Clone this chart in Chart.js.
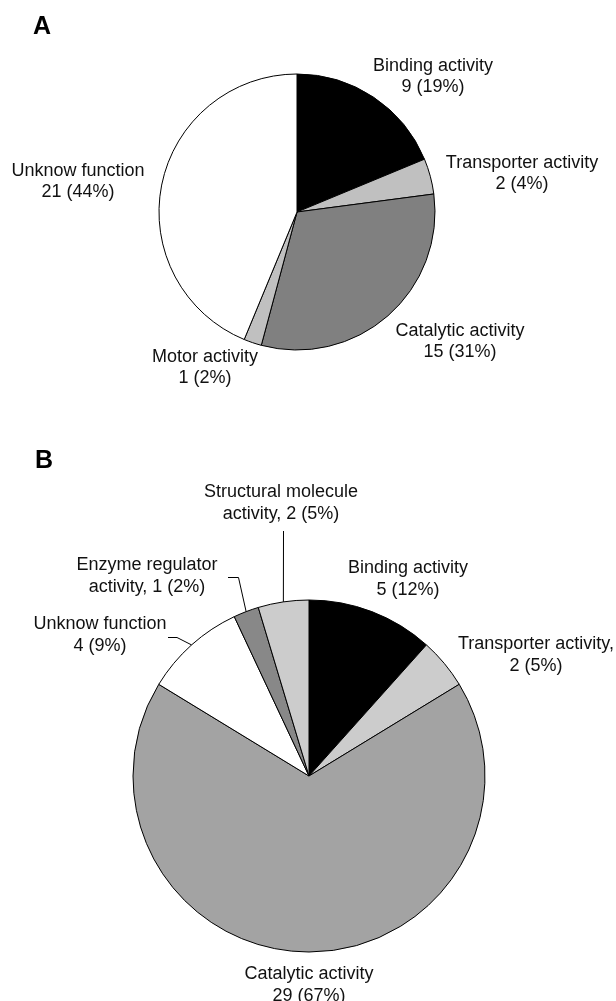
<!DOCTYPE html>
<html>
<head>
<meta charset="utf-8">
<script src="https://cdn.jsdelivr.net/npm/chart.js@4.4.0/dist/chart.umd.min.js"></script>
<style>
    html, body { margin: 0; padding: 0; background: #fff; }
    canvas { display: block; }
</style>
</head>
<body>
<canvas id="chartA" width="616" height="430"></canvas>
<canvas id="chartB" width="616" height="571"></canvas>
<script>
// Panel A
const categoriesA = ['Binding activity', 'Transporter activity', 'Catalytic activity', 'Motor activity', 'Unknow function'];
const countsA = [9, 2, 15, 1, 21];
const coloursA = ['#000000', '#c0c0c0', '#808080', '#c0c0c0', '#ffffff'];
// how each label wraps in the figure, {n} = count, {p} = percent
const labelLinesA = [
    ['Binding activity', '{n} ({p}%)'],
    ['Transporter activity', '{n} ({p}%)'],
    ['Catalytic activity', '{n} ({p}%)'],
    ['Motor activity', '{n} ({p}%)'],
    ['Unknow function', '{n} ({p}%)']
];

// Panel B
const categoriesB = ['Binding activity', 'Transporter activity', 'Catalytic activity', 'Unknow function', 'Enzyme regulator activity', 'Structural molecule activity'];
const countsB = [5, 2, 29, 4, 1, 2];
const coloursB = ['#000000', '#cccccc', '#a3a3a3', '#ffffff', '#888888', '#cccccc'];
const labelLinesB = [
    ['Binding activity', '{n} ({p}%)'],
    ['Transporter activity,', '{n} ({p}%)'],
    ['Catalytic activity', '{n} ({p}%)'],
    ['Unknow function', '{n} ({p}%)'],
    ['Enzyme regulator', 'activity, {n} ({p}%)'],
    ['Structural molecule', 'activity, {n} ({p}%)']
];

const FONT = '"Liberation Sans", Arial, Helvetica, sans-serif';

// draws the slice labels, the leader lines and the panel letter
const sliceLabels = {
    id: 'sliceLabels',
    afterDatasetsDraw(chart, args, opts) {
        const ctx = chart.ctx;
        const meta = chart.getDatasetMeta(0);
        const data = chart.data.datasets[0].data;
        const total = data.reduce((a, b) => a + b, 0);

        ctx.save();
        ctx.fillStyle = '#111';
        ctx.font = '18px ' + FONT;
        ctx.textAlign = 'center';
        ctx.textBaseline = 'alphabetic';
        opts.lines.forEach((lines, i) => {
            const [x, y] = opts.anchors[i];
            const pct = Math.round(data[i] / total * 100);
            lines.forEach((t, k) => {
                ctx.fillText(t.replace('{n}', data[i]).replace('{p}', pct), x, y + k * opts.lineGap);
            });
        });

        ctx.strokeStyle = '#000';
        ctx.lineWidth = 1;
        (opts.leaders || []).forEach(l => {
            const arc = meta.data[l.index];
            const p = arc.getProps(['x', 'y', 'startAngle', 'endAngle', 'outerRadius'], true);
            const mid = (p.startAngle + p.endAngle) / 2;
            ctx.beginPath();
            ctx.moveTo(l.path[0][0], l.path[0][1]);
            l.path.slice(1).forEach(pt => ctx.lineTo(pt[0], pt[1]));
            ctx.lineTo(p.x + Math.cos(mid) * p.outerRadius, p.y + Math.sin(mid) * p.outerRadius);
            ctx.stroke();
        });

        ctx.fillStyle = '#000';
        ctx.font = 'bold 25px ' + FONT;
        ctx.textAlign = 'left';
        ctx.fillText(opts.panel, opts.panelPos[0], opts.panelPos[1]);
        ctx.restore();
    }
};

const makePie = (id, labels, values, colours, radius, padding, labelOpts) => new Chart(document.getElementById(id), {
    type: 'pie',
    data: {
        labels: labels,
        datasets: [{
            data: values,
            backgroundColor: colours,
            borderColor: '#000',
            borderWidth: 1,
            radius: radius
        }]
    },
    options: {
        responsive: false,
        animation: false,
        layout: { padding: padding },
        plugins: {
            legend: { display: false },
            tooltip: { enabled: false },
            sliceLabels: labelOpts
        }
    },
    plugins: [sliceLabels]
});

makePie('chartA', categoriesA, countsA, coloursA, 138,
    { left: 159, right: 181, top: 74, bottom: 80 },
    {
        panel: 'A',
        panelPos: [33, 34],
        lineGap: 21,
        lines: labelLinesA,
        anchors: [[433, 71], [522, 168], [460, 336], [205, 362], [78, 176]]
    });

makePie('chartB', categoriesB, countsB, coloursB, 176,
    { left: 133, right: 131, top: 170, bottom: 49 },
    {
        panel: 'B',
        panelPos: [35, 38],
        lineGap: 22,
        lines: labelLinesB,
        anchors: [[408, 143], [536, 219], [309, 549], [100, 199], [147, 140], [281, 67]],
        leaders: [
            { index: 5, path: [[283.5, 101]] },
            { index: 4, path: [[228, 147.5], [238.5, 147.5]] },
            { index: 3, path: [[168, 207.5], [177, 207.5]] }
        ]
    });
</script>
</body>
</html>
